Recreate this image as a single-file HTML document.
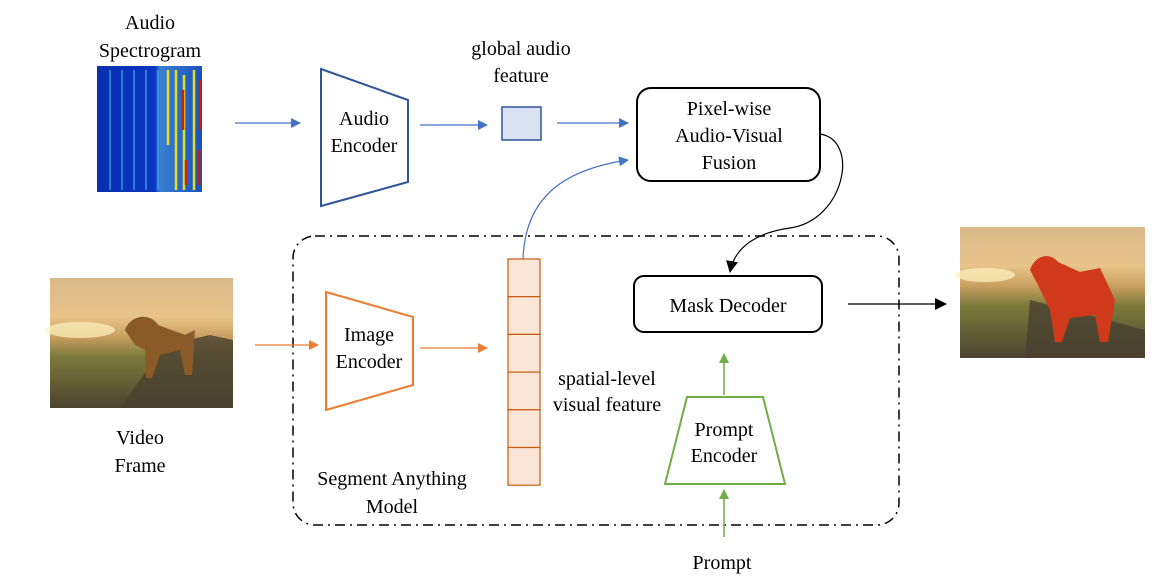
<!DOCTYPE html>
<html><head><meta charset="utf-8"><style>
body{margin:0;background:#fff;}
svg{display:block;font-family:"Liberation Serif",serif;}
text{font-size:20px;fill:#000;text-anchor:middle;}
</style></head><body>
<svg width="1152" height="584" viewBox="0 0 1152 584" xmlns="http://www.w3.org/2000/svg">
<defs>
<marker id="ab" markerWidth="10" markerHeight="10" refX="9" refY="5" orient="auto" markerUnits="userSpaceOnUse"><path d="M0,0 L10,5 L0,10z" fill="#4472c4"/></marker>
<marker id="ao" markerWidth="10" markerHeight="10" refX="9" refY="5" orient="auto" markerUnits="userSpaceOnUse"><path d="M0,0 L10,5 L0,10z" fill="#ed7d31"/></marker>
<marker id="ag" markerWidth="10" markerHeight="10" refX="9" refY="5" orient="auto" markerUnits="userSpaceOnUse"><path d="M0,0 L10,5 L0,10z" fill="#70ad47"/></marker>
<marker id="ak" markerWidth="12" markerHeight="12" refX="11" refY="6" orient="auto" markerUnits="userSpaceOnUse"><path d="M0,0 L12,6 L0,12z" fill="#000"/></marker>
<linearGradient id="sky" x1="0" y1="0" x2="0" y2="1">
<stop offset="0" stop-color="#d9b98a"/><stop offset="0.3" stop-color="#e8c48a"/><stop offset="0.45" stop-color="#c9a060"/><stop offset="0.6" stop-color="#7d7a3c"/><stop offset="1" stop-color="#4a4430"/></linearGradient>
<linearGradient id="spec" x1="0" y1="0" x2="1" y2="0">
<stop offset="0" stop-color="#0a2fb0"/><stop offset="0.55" stop-color="#0a35c0"/><stop offset="0.6" stop-color="#3a80d0"/><stop offset="1" stop-color="#1a50c0"/></linearGradient>
</defs>
<!-- spectrogram -->
<rect x="97" y="66" width="105" height="126" fill="url(#spec)"/>
<g stroke="#40c0f0" stroke-width="1.5" opacity="0.7">
<line x1="110" y1="70" x2="110" y2="190"/><line x1="122" y1="70" x2="122" y2="190"/><line x1="134" y1="70" x2="134" y2="190"/><line x1="146" y1="70" x2="146" y2="190"/><line x1="158" y1="70" x2="158" y2="190"/></g>
<g stroke="#e0e020" stroke-width="2.5">
<line x1="168" y1="70" x2="168" y2="145"/><line x1="176" y1="70" x2="176" y2="190"/><line x1="184" y1="75" x2="184" y2="190"/><line x1="194" y1="70" x2="194" y2="190"/></g>
<g stroke="#c02010" stroke-width="2.5">
<line x1="183" y1="90" x2="183" y2="130"/><line x1="200" y1="80" x2="200" y2="130"/><line x1="199" y1="150" x2="199" y2="185"/><line x1="186" y1="160" x2="186" y2="185"/></g>
<text x="150" y="29">Audio</text>
<text x="150" y="57">Spectrogram</text>
<line x1="235" y1="123" x2="300" y2="123" stroke="#4472c4" stroke-width="1.2" marker-end="url(#ab)"/>
<polygon points="321,69 408,100 408,182 321,206" fill="#fff" stroke="#2f5597" stroke-width="2"/>
<text x="364" y="125">Audio</text><text x="364" y="152">Encoder</text>
<line x1="420" y1="125" x2="487" y2="125" stroke="#4472c4" stroke-width="1.2" marker-end="url(#ab)"/>
<rect x="502" y="107" width="39" height="33" fill="#dae3f3" stroke="#2f5597" stroke-width="1.5"/>
<text x="521" y="55">global audio</text><text x="521" y="82">feature</text>
<line x1="557" y1="123" x2="628" y2="123" stroke="#4472c4" stroke-width="1.2" marker-end="url(#ab)"/>
<rect x="637" y="88" width="183" height="93" rx="14" fill="#fff" stroke="#000" stroke-width="2"/>
<text x="729" y="115">Pixel-wise</text><text x="729" y="142">Audio-Visual</text><text x="729" y="169">Fusion</text>
<!-- SAM box -->
<rect x="293" y="236" width="606" height="289" rx="22" fill="none" stroke="#000" stroke-width="1.5" stroke-dasharray="10,5,2,5"/>
<!-- black curve -->
<path d="M820,134 C860,140 845,220 790,228 C760,232 735,245 730,272" fill="none" stroke="#000" stroke-width="1.2" marker-end="url(#ak)"/>
<!-- blue curve -->
<path d="M523,259 C525,200 560,170 628,160" fill="none" stroke="#4472c4" stroke-width="1.2" marker-end="url(#ab)"/>
<!-- video frame -->
<rect x="50" y="278" width="183" height="130" fill="url(#sky)"/>
<ellipse cx="80" cy="330" rx="35" ry="8" fill="#fff3c0" opacity="0.7"/>
<path d="M165,345 L210,335 L233,340 L233,408 L120,408 Z" fill="#4a4030" opacity="0.8"/>
<path d="M125,330 C130,315 150,312 158,325 L185,335 L195,330 L192,375 L185,375 L180,350 L160,355 L152,378 L146,378 L145,350 L135,345 Z" fill="#8a5a28"/>
<text x="140" y="444">Video</text><text x="140" y="472">Frame</text>
<!-- image encoder -->
<line x1="255" y1="345" x2="318" y2="345" stroke="#ed7d31" stroke-width="1.2" marker-end="url(#ao)"/>
<polygon points="326,292 413,317 413,385 326,410" fill="#fff" stroke="#ed7d31" stroke-width="2"/>
<text x="369" y="341">Image</text><text x="369" y="368">Encoder</text>
<line x1="420" y1="348" x2="487" y2="348" stroke="#ed7d31" stroke-width="1.2" marker-end="url(#ao)"/>
<!-- feature column -->
<g fill="#fbe5d6" stroke="#c55a11" stroke-width="1.2">
<rect x="508" y="259" width="32" height="37.7"/><rect x="508" y="296.7" width="32" height="37.7"/><rect x="508" y="334.4" width="32" height="37.7"/><rect x="508" y="372.1" width="32" height="37.7"/><rect x="508" y="409.8" width="32" height="37.7"/><rect x="508" y="447.5" width="32" height="37.7"/></g>
<text x="607" y="385">spatial-level</text><text x="607" y="411">visual feature</text>
<text x="392" y="485">Segment Anything</text><text x="392" y="513">Model</text>
<!-- mask decoder -->
<rect x="634" y="276" width="188" height="56" rx="10" fill="#fff" stroke="#000" stroke-width="2"/>
<text x="728" y="312">Mask Decoder</text>
<line x1="848" y1="304" x2="946" y2="304" stroke="#000" stroke-width="1.2" marker-end="url(#ak)"/>
<!-- prompt encoder -->
<line x1="724" y1="395" x2="724" y2="354" stroke="#70ad47" stroke-width="1.5" marker-end="url(#ag)"/>
<polygon points="687,397 763,397 785,484 665,484" fill="#fff" stroke="#70ad47" stroke-width="2"/>
<text x="724" y="436">Prompt</text><text x="724" y="462">Encoder</text>
<line x1="724" y1="537" x2="724" y2="490" stroke="#70ad47" stroke-width="1.5" marker-end="url(#ag)"/>
<text x="722" y="569">Prompt</text>
<!-- output image -->
<rect x="960" y="227" width="185" height="131" fill="url(#sky)"/>
<ellipse cx="985" cy="275" rx="30" ry="7" fill="#fff3c0" opacity="0.7"/>
<path d="M1030,300 L1145,330 L1145,358 L1025,358 Z" fill="#4a4030" opacity="0.8"/>
<path d="M1030,270 C1035,255 1050,252 1058,262 L1080,272 L1100,268 L1115,300 L1108,342 L1100,342 L1095,315 L1070,318 L1062,342 L1055,342 L1050,310 L1038,285 Z" fill="#d03a1a"/>
</svg>
</body></html>
